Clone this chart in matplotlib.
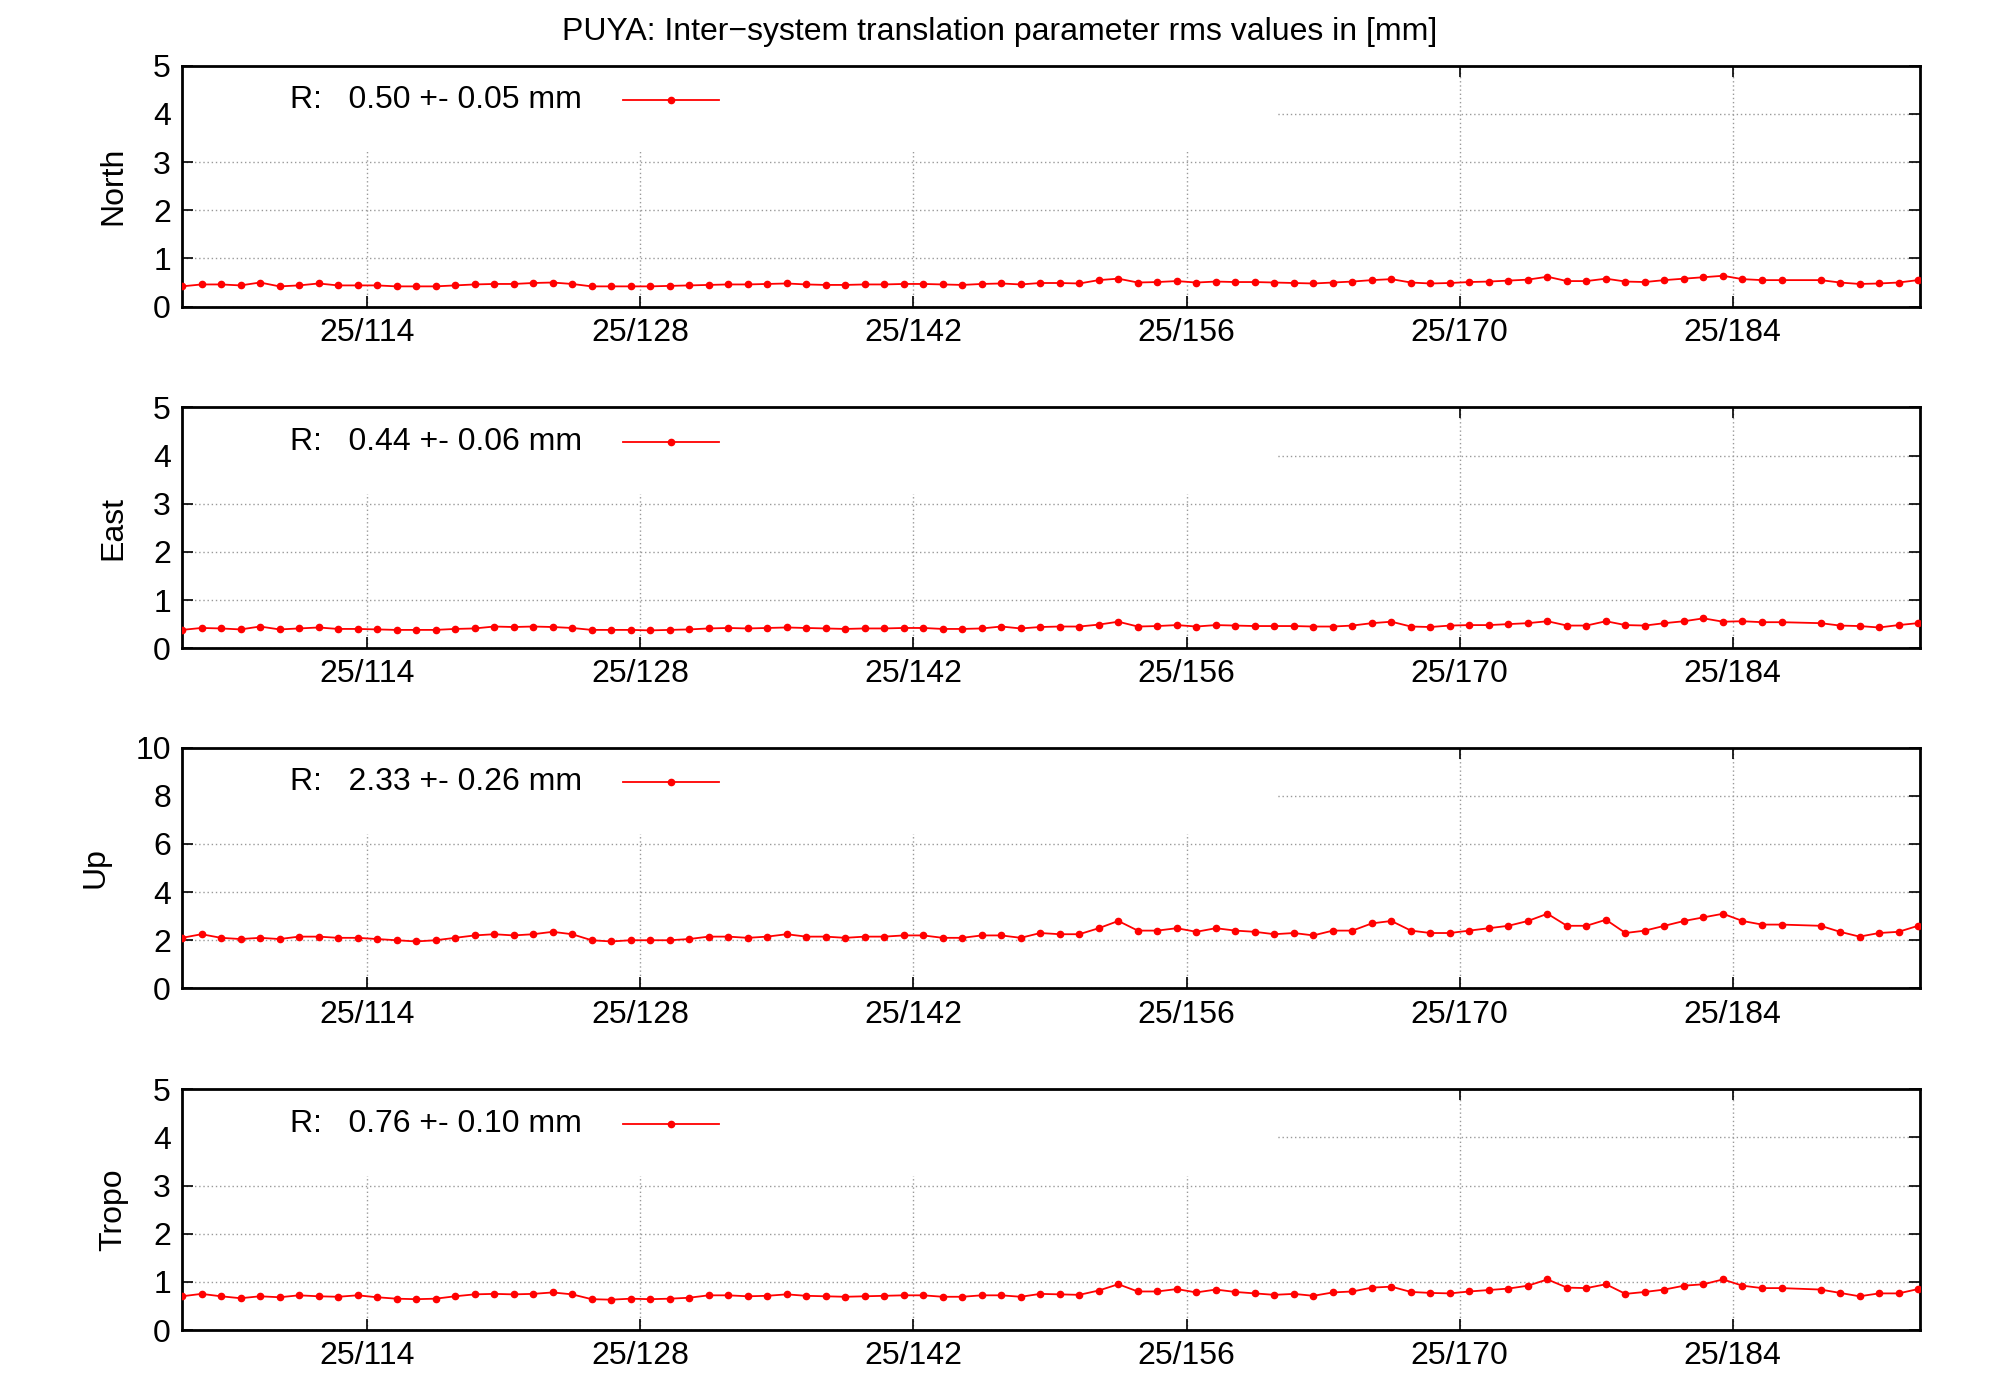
import matplotlib
matplotlib.use("Agg")
import matplotlib.pyplot as plt
from matplotlib.patches import Rectangle

days = [104.5 + i for i in range(83)] + [188.5, 189.5, 190.5, 191.5, 192.5, 193.5]
north = [0.42,0.46,0.46,0.44,0.50,0.42,0.44,0.48,0.44,0.44, 0.44,0.42,0.42,0.42,0.44,0.46,0.47,0.47,0.49,0.50,0.47,0.42,0.42,0.42,
 0.42,0.43,0.44,0.45,0.46,0.46,0.47,0.48,0.46,0.45,0.45,0.46,0.46,0.47, 0.47,0.46,0.45,0.47,0.48,0.46,0.49,0.49,0.48,0.55,0.58,0.50,0.51,0.53,
 0.50,0.52,0.51,0.51,0.50,0.49,0.48,0.50,0.52,0.55,0.57,0.50,0.48,0.49, 0.51,0.52,0.54,0.56,0.62,0.53,0.53,0.58,0.52,0.51,0.55,0.58,0.61,0.64,
 0.57,0.55,0.55, 0.55,0.50,0.47,0.48,0.50,0.55]
east = [0.38,0.42,0.41,0.39,0.45,0.39,0.41,0.43,0.40,0.40, 0.39,0.38,0.38,0.38,0.40,0.41,0.45,0.44,0.45,0.44,0.42,0.38,0.38,0.38,
 0.37,0.38,0.39,0.41,0.42,0.41,0.42,0.43,0.42,0.41,0.40,0.41,0.41,0.42, 0.42,0.40,0.40,0.41,0.45,0.41,0.44,0.45,0.45,0.49,0.55,0.45,0.46,0.48,
 0.45,0.48,0.47,0.46,0.46,0.46,0.45,0.45,0.47,0.52,0.55,0.45,0.44,0.47, 0.48,0.48,0.50,0.52,0.56,0.47,0.47,0.56,0.48,0.47,0.52,0.56,0.62,0.55,
 0.56,0.54,0.54, 0.52,0.47,0.46,0.43,0.48,0.52]
up = [2.1,2.25,2.1,2.05,2.1,2.05,2.15,2.15,2.1,2.1, 2.05,2.0,1.95,2.0,2.1,2.2,2.25,2.2,2.25,2.35,2.25,2.0,1.95,2.0,
 2.0,2.0,2.05,2.15,2.15,2.1,2.15,2.25,2.15,2.15,2.1,2.15,2.15,2.2, 2.2,2.1,2.1,2.2,2.2,2.1,2.3,2.25,2.25,2.5,2.8,2.4,2.4,2.5,
 2.35,2.5,2.4,2.35,2.25,2.3,2.2,2.4,2.4,2.7,2.8,2.4,2.3,2.3, 2.4,2.5,2.6,2.8,3.1,2.6,2.6,2.85,2.3,2.4,2.6,2.8,2.95,3.1,
 2.8,2.65,2.65, 2.6,2.35,2.15,2.3,2.35,2.6]
tropo = [0.70,0.75,0.70,0.66,0.70,0.68,0.72,0.70,0.69,0.72, 0.68,0.65,0.64,0.65,0.70,0.74,0.75,0.74,0.75,0.78,0.74,0.64,0.63,0.65,
 0.64,0.65,0.67,0.72,0.72,0.70,0.71,0.74,0.71,0.70,0.69,0.70,0.71,0.72, 0.72,0.69,0.69,0.72,0.72,0.69,0.75,0.74,0.73,0.82,0.95,0.80,0.80,0.85,
 0.78,0.84,0.79,0.76,0.73,0.75,0.71,0.78,0.80,0.88,0.90,0.79,0.77,0.76, 0.80,0.83,0.86,0.92,1.05,0.88,0.87,0.95,0.75,0.79,0.84,0.92,0.95,1.05,
 0.92,0.87,0.87, 0.84,0.77,0.70,0.76,0.76,0.85]

panels = ["North", "East", "Up", "Tropo"]
series = [north, east, up, tropo]
labels = ["R:   0.50 +- 0.05 mm", "R:   0.44 +- 0.06 mm", "R:   2.33 +- 0.26 mm", "R:   0.76 +- 0.10 mm"]
ymax = [5, 5, 10, 5]
ystep = [1, 1, 2, 1]
xticks = [114, 128, 142, 156, 170, 184]
xticklabels = ["25/114", "25/128", "25/142", "25/156", "25/170", "25/184"]

plt.rcParams["font.family"] = "Liberation Sans"
fig = plt.figure(figsize=(20, 14), dpi=100)
bottoms = [0.781, 0.537, 0.294, 0.05]
fs = 23
for name, vals, lab, ym, st, b in zip(panels, series, labels, ymax, ystep, bottoms):
    ax = fig.add_axes([0.091, b, 0.869, 0.172])
    ax.set_axisbelow(True)
    ax.set_xlim(104.5, 193.6)
    ax.set_ylim(0, ym)
    ax.set_yticks(range(0, ym + 1, st))
    ax.set_xticks(xticks)
    ax.set_xticklabels(xticklabels)
    ax.grid(True, linestyle=(0, (1, 2)), color="#999999", linewidth=1)
    ax.add_patch(Rectangle((0, 0.64), 0.63, 0.36, transform=ax.transAxes,
                           facecolor="white", edgecolor="none", zorder=1))
    ax.plot(days, vals, color="red", marker="o", markersize=4.5, linewidth=1.3, zorder=3)
    ax.tick_params(direction="in", top=True, right=True, labelsize=fs, length=8, width=1.2, pad=8)
    for s in ax.spines.values():
        s.set_linewidth(2)
    ax.set_ylabel(name, fontsize=fs, labelpad=18)
    ax.text(0.062, 0.857, lab, transform=ax.transAxes, fontsize=fs, va="center", zorder=4)
    ax.plot([0.254, 0.309], [0.857, 0.857], color="red", linewidth=1.3, transform=ax.transAxes, zorder=4)
    ax.plot([0.2815], [0.857], color="red", marker="o", markersize=4.5, transform=ax.transAxes, zorder=4)

fig.text(0.5, 0.977, "PUYA: Inter\u2212system translation parameter rms values in [mm]",
         ha="center", va="center", fontsize=fs)
fig.savefig("out.png")
